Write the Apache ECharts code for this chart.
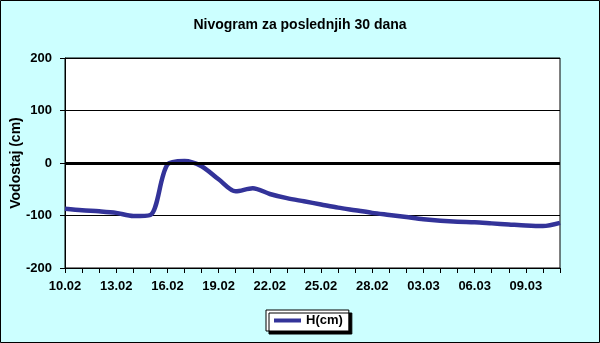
<!DOCTYPE html>
<html>
<head>
<meta charset="utf-8">
<script src="https://cdn.jsdelivr.net/npm/echarts@6/dist/echarts.min.js"></script>
<style>
html,body{margin:0;padding:0;background:#CCFFFF;}
#c{width:600px;height:343px;}
</style>
</head>
<body>
<div id="c"></div>
<script>
var categories = ["10.02","11.02","12.02","13.02","14.02","15.02","16.02","17.02","18.02","19.02",
  "20.02","21.02","22.02","23.02","24.02","25.02","26.02","27.02","28.02","01.03",
  "02.03","03.03","04.03","05.03","06.03","07.03","08.03","09.03","10.03","11.03"];
var hValues = [-87,-90,-92,-95,-101,-99,-3,4,-6,-31,
  -54,-48,-59,-67,-73,-79,-85,-90,-95,-99,
  -103,-107,-110,-112,-113,-115,-117,-119,-120,-114];
var yTicks = {min:-200, max:200, interval:100};
var titleText = "Nivogram za poslednjih 30 dana";
var yName = "Vodostaj (cm)";
var seriesName = "H(cm)";

var chart = echarts.init(document.getElementById('c'), null, {renderer:'canvas'});
var font = 'Liberation Sans, Arial, sans-serif';
chart.setOption({
  backgroundColor: '#CCFFFF',
  animation: false,
  title: {
    text: titleText, left: 'center', top: 18, padding: 0,
    textStyle: {fontFamily: font, fontWeight: 'bold', fontSize: 14, color: '#000'}
  },
  grid: {left: 65, right: 40, top: 58, bottom: 75, containLabel: false, outerBoundsMode: 'none',
    show: true, backgroundColor: '#fff', borderColor: '#000', borderWidth: 1},
  xAxis: {
    type: 'category', data: categories, boundaryGap: false,
    axisLine: {onZero: false, lineStyle: {color: '#000', width: 1}},
    axisTick: {show: true, interval: 0, length: 5, lineStyle: {color: '#000'}},
    axisLabel: {interval: 2, margin: 12, color: '#000', fontFamily: font, fontWeight: 'bold', fontSize: 13},
    splitLine: {show: false}
  },
  yAxis: {
    type: 'value', min: yTicks.min, max: yTicks.max, interval: yTicks.interval,
    name: yName, nameLocation: 'middle', nameGap: 42, nameRotate: 90, nameMoveOverlap: false,
    nameTextStyle: {fontFamily: font, fontWeight: 'bold', fontSize: 14, color: '#000'},
    axisLine: {show: true, lineStyle: {color: '#000'}},
    axisTick: {show: true, length: 5, lineStyle: {color: '#000'}},
    axisLabel: {margin: 13, color: '#000', fontFamily: font, fontWeight: 'bold', fontSize: 13},
    splitLine: {show: true, lineStyle: {color: '#000', width: 1}}
  },
  legend: {
    data: [seriesName], top: 310, left: 266,
    backgroundColor: '#fff', borderColor: '#000', borderWidth: 1,
    shadowColor: 'rgba(0,0,0,1)', shadowOffsetX: 3, shadowOffsetY: 3, shadowBlur: 0,
    padding: [4, 6, 4, 8], itemGap: 0,
    icon: 'rect', itemWidth: 27, itemHeight: 4,
    textStyle: {fontFamily: font, fontWeight: 'bold', fontSize: 13, color: '#000'}
  },
  graphic: [{
    type: 'rect', shape: {x: 0.5, y: 0.5, width: 599, height: 342},
    style: {fill: 'none', stroke: '#000', lineWidth: 1}, silent: true, z: 100
  }],
  series: [{
    name: seriesName, type: 'line', data: hValues, smooth: 0.3,
    showSymbol: false, symbol: 'none',
    lineStyle: {color: '#333399', width: 4.5},
    itemStyle: {color: '#333399'},
    markLine: {
      silent: true, symbol: ['none','none'], label: {show: false},
      lineStyle: {color: '#000', width: 3, type: 'solid'},
      data: [{yAxis: 0}]
    }
  }]
});
</script>
</body>
</html>
